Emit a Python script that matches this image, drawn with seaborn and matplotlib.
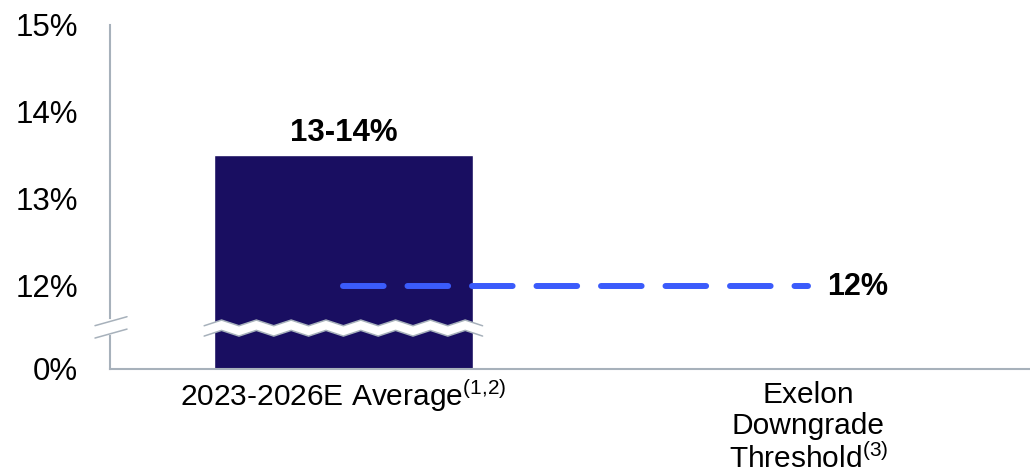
import numpy as np
import pandas as pd
import matplotlib
matplotlib.use("Agg")
import matplotlib.pyplot as plt
import matplotlib.ticker as mticker
from matplotlib.transforms import blended_transform_factory
import seaborn as sns

# ---------------- data ----------------
categories = ["2023-2026E Average$^{(1{,}2)}$", "Exelon\nDowngrade\nThreshold$^{(3)}$"]
bar_values = [13.5, np.nan]          # midpoint of the 13-14% range
bar_labels = ["13-14%"]
threshold = 12.0
threshold_label = "12%"
ytick_values = [0, 12, 13, 14, 15]
ytick_labels = ["0%", "12%", "13%", "14%", "15%"]

# ---------------- style ----------------
sns.set_style("white")
plt.rcParams["font.family"] = ["Liberation Sans", "DejaVu Sans"]
plt.rcParams["mathtext.fontset"] = "custom"
plt.rcParams["mathtext.rm"] = "Liberation Sans"
plt.rcParams["mathtext.it"] = "Liberation Sans"
plt.rcParams["mathtext.bf"] = "Liberation Sans:bold"
plt.rcParams["mathtext.default"] = "regular"

BAR_COLOR = "#190E61"
LINE_COLOR = "#3B5BFB"
AXIS_COLOR = "#A7B1BB"

fig = plt.figure(figsize=(10.3, 4.73), dpi=100)
ax = fig.add_axes([110 / 1030, 1 - 369 / 473, 920 / 1030, 344 / 473])

df = pd.DataFrame({"cat": categories, "val": bar_values})
sns.barplot(data=df, x="cat", y="val", order=categories, color=BAR_COLOR,
            saturation=1, width=0.556, ax=ax, zorder=2)

# broken y scale: 0-12 compressed into one unit
BREAK = 0.96
def fwd(v):
    v = np.asarray(v, dtype=float)
    return np.where(v <= 12, v / 12 * BREAK, BREAK + (v - 12))
def inv(p):
    p = np.asarray(p, dtype=float)
    return np.where(p <= BREAK, p / BREAK * 12, p - BREAK + 12)
ax.set_yscale("function", functions=(fwd, inv))
ax.set_ylim(0, 15)
ax.set_xlim(-0.502, 1.477)

ax.set_yticks(ytick_values)
ax.set_yticklabels(ytick_labels)
ax.yaxis.set_minor_locator(mticker.NullLocator())
ax.set_xticks(range(len(categories)))
ax.set_xticklabels([""] * len(categories))
ax.set_xlabel("")
ax.set_ylabel("")

# category labels (baseline of last line placed below the axis)
label_offsets = [-26.6, -71.0]
for i, lab in enumerate(categories):
    ax.annotate(lab, xy=(i, 0), xycoords=("data", "axes fraction"),
                xytext=(0, label_offsets[i]), textcoords="offset points",
                ha="center", va="baseline", fontsize=21.5, color="black",
                linespacing=1.12, annotation_clip=False)

for s in ["top", "right"]:
    ax.spines[s].set_visible(False)
for s in ["left", "bottom"]:
    ax.spines[s].set_color(AXIS_COLOR)
    ax.spines[s].set_linewidth(1.5)
ax.tick_params(axis="y", length=7.2, width=1.1, color=AXIS_COLOR,
               pad=16, labelsize=22.5, labelcolor="black")
ax.tick_params(axis="x", length=0)

# threshold dashed line between the two categories
ax.plot([0, 1], [threshold, threshold], color=LINE_COLOR, lw=4.3,
        dashes=(6.8, 4.0), dash_capstyle="round", solid_capstyle="round",
        zorder=4)
ax.annotate(threshold_label, xy=(1, threshold), xytext=(13.3, -1),
            textcoords="offset points", ha="left", va="center",
            fontsize=22, fontweight="bold", color="black")

# bar value label
ax.bar_label(ax.containers[0], labels=bar_labels, padding=5,
             fontsize=22.5, fontweight="bold", color="black")

# ---- axis break decorations ----
bt = blended_transform_factory(ax.transData, ax.transAxes)
bar = ax.containers[0][0]
x0 = bar.get_x() - 0.0215
x1 = bar.get_x() + bar.get_width() + 0.0215
n_half = 16
xs = np.linspace(x0, x1, n_half + 1)
yc, amp, off = 0.119, 0.0083, 0.0150
zig = np.array([-amp if i % 2 == 0 else amp for i in range(n_half + 1)])
up = yc + off + zig
lo = yc - off + zig
ax.fill(np.concatenate([xs, xs[::-1]]), np.concatenate([up, lo[::-1]]),
        color="white", transform=bt, zorder=5, clip_on=False, lw=0)
ax.plot(xs, up, color=AXIS_COLOR, lw=1.1, transform=bt, zorder=6, clip_on=False)
ax.plot(xs, lo, color=AXIS_COLOR, lw=1.1, transform=bt, zorder=6, clip_on=False)

# break on y axis spine
ax.plot([0, 0], [0.104, 0.139], color="white", lw=3, transform=ax.transAxes,
        zorder=7, clip_on=False)
for y_l, y_r in [(0.126, 0.152), (0.090, 0.116)]:
    ax.plot([-0.0163, 0.0185], [y_l, y_r], color=AXIS_COLOR, lw=1.1,
            transform=ax.transAxes, zorder=8, clip_on=False)

fig.savefig("out.png", dpi=100)
